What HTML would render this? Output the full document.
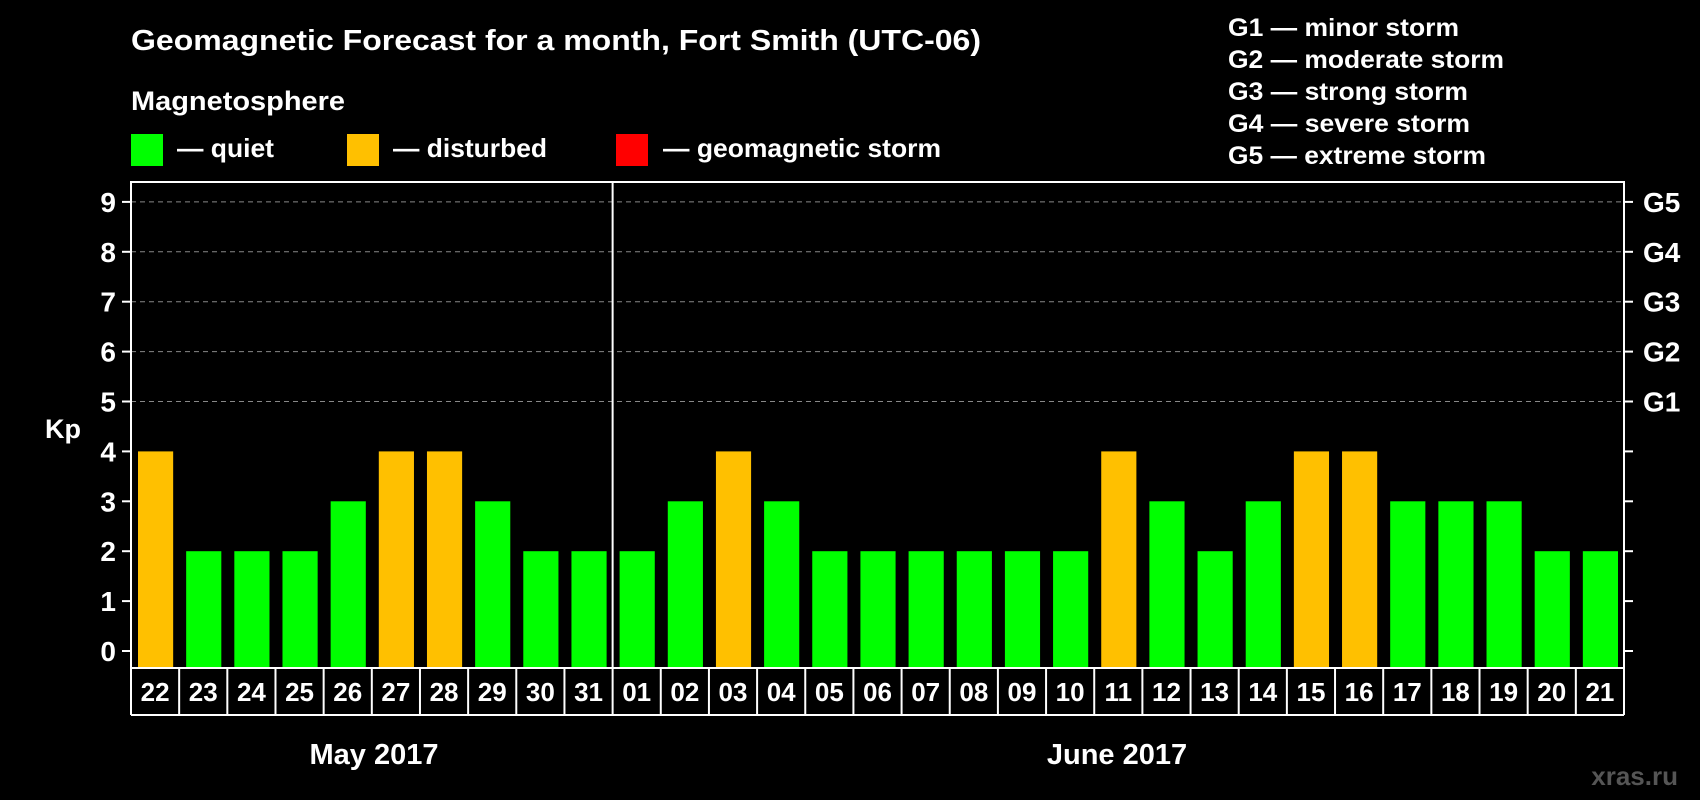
<!DOCTYPE html>
<html><head><meta charset="utf-8"><style>
html,body{margin:0;padding:0;background:#000;width:1700px;height:800px;overflow:hidden}
svg text{font-family:"Liberation Sans",Arial,sans-serif;font-weight:bold;fill:#fff}
</style></head><body>
<svg id="c" width="1700" height="800" viewBox="0 0 1700 800">
<text x="131" y="50" font-size="29" textLength="850" lengthAdjust="spacingAndGlyphs">Geomagnetic Forecast for a month, Fort Smith (UTC-06)</text>
<text x="131" y="110" font-size="27" textLength="214" lengthAdjust="spacingAndGlyphs">Magnetosphere</text>
<g><rect x="131" y="134" width="32" height="32" fill="#00ff00"/><text x="177" y="157" font-size="26" textLength="97" lengthAdjust="spacingAndGlyphs">— quiet</text></g>
<g><rect x="347" y="134" width="32" height="32" fill="#ffc000"/><text x="393" y="157" font-size="26" textLength="154" lengthAdjust="spacingAndGlyphs">— disturbed</text></g>
<g><rect x="616" y="134" width="32" height="32" fill="#ff0000"/><text x="663" y="157" font-size="26" textLength="278" lengthAdjust="spacingAndGlyphs">— geomagnetic storm</text></g>
<g font-size="25">
<text x="1228" y="36" textLength="231" lengthAdjust="spacingAndGlyphs">G1 — minor storm</text>
<text x="1228" y="68" textLength="276" lengthAdjust="spacingAndGlyphs">G2 — moderate storm</text>
<text x="1228" y="100" textLength="240" lengthAdjust="spacingAndGlyphs">G3 — strong storm</text>
<text x="1228" y="132" textLength="242" lengthAdjust="spacingAndGlyphs">G4 — severe storm</text>
<text x="1228" y="164" textLength="258" lengthAdjust="spacingAndGlyphs">G5 — extreme storm</text>
</g>
<text x="63" y="438" font-size="27" text-anchor="middle">Kp</text>
<g id="grid"></g><g id="bars"></g><g id="axes"></g>
<text x="374" y="764" font-size="29" text-anchor="middle">May 2017</text>
<text x="1117" y="764" font-size="29" text-anchor="middle">June 2017</text>
<text x="1678" y="785" font-size="26" text-anchor="end" style="fill:#555">xras.ru</text>
</svg>
<script>
const days=["22","23","24","25","26","27","28","29","30","31","01","02","03","04","05","06","07","08","09","10","11","12","13","14","15","16","17","18","19","20","21"];
const kp=[4,2,2,2,3,4,4,3,2,2,2,3,4,3,2,2,2,2,2,2,4,3,2,3,4,4,3,3,3,2,2];
const yTicks=[0,1,2,3,4,5,6,7,8,9];
const gLabels=["","","","","","G1","G2","G3","G4","G5"];
const L=131,R=1624,T=182,B=668,LB=715,NS="http://www.w3.org/2000/svg";
const slot=(R-L)/days.length;
const y=v=>651-49.9*v;
const x=i=>L+i*slot;
function mk(t,a,p){const e=document.createElementNS(NS,t);for(const k in a)e.setAttribute(k,a[k]);p.appendChild(e);return e;}
const grid=document.getElementById('grid'),bars=document.getElementById('bars'),axes=document.getElementById('axes');
yTicks.forEach((v,i)=>{
 if(v>=5){const g=mk('line',{x1:L,x2:R,y1:y(v),y2:y(v),stroke:'#888','stroke-dasharray':'5,4','stroke-width':1},grid);
 
 }
 mk('line',{x1:L-9,x2:L,y1:y(v),y2:y(v),stroke:'#fff','stroke-width':2},axes);
 mk('line',{x1:R,x2:R+9,y1:y(v),y2:y(v),stroke:'#fff','stroke-width':2},axes);
 const t=mk('text',{x:116,y:y(v)+10,'font-size':28,'text-anchor':'end'},axes);t.textContent=v;
 
 
 if(gLabels[i]){const g=mk('text',{x:1643,y:y(v)+10,'font-size':28},axes);g.textContent=gLabels[i];
 
 }
});
kp.forEach((v,i)=>{
 const col=v>=5?'#ff0000':(v>=4?'#ffc000':'#00ff00');
 const r=mk('rect',{x:x(i)+7,y:y(v),width:slot-13,height:B-y(v),fill:col},bars);
 
 
 const t=mk('text',{x:x(i)+slot/2,y:701,'font-size':26,'text-anchor':'middle'},axes);t.textContent=days[i];
 
 
 mk('line',{x1:x(i),x2:x(i),y1:B,y2:LB,stroke:'#fff','stroke-width':2},axes);
});
mk('line',{x1:R,x2:R,y1:B,y2:LB,stroke:'#fff','stroke-width':2},axes);
mk('line',{x1:L,x2:R,y1:LB,y2:LB,stroke:'#fff','stroke-width':2},axes);
const fr=mk('rect',{x:L,y:T,width:R-L,height:B-T,fill:'none',stroke:'#fff','stroke-width':2},axes);


const dv=mk('line',{x1:x(10),x2:x(10),y1:T,y2:B,stroke:'#fff','stroke-width':2},axes);


</script>
</body></html>
